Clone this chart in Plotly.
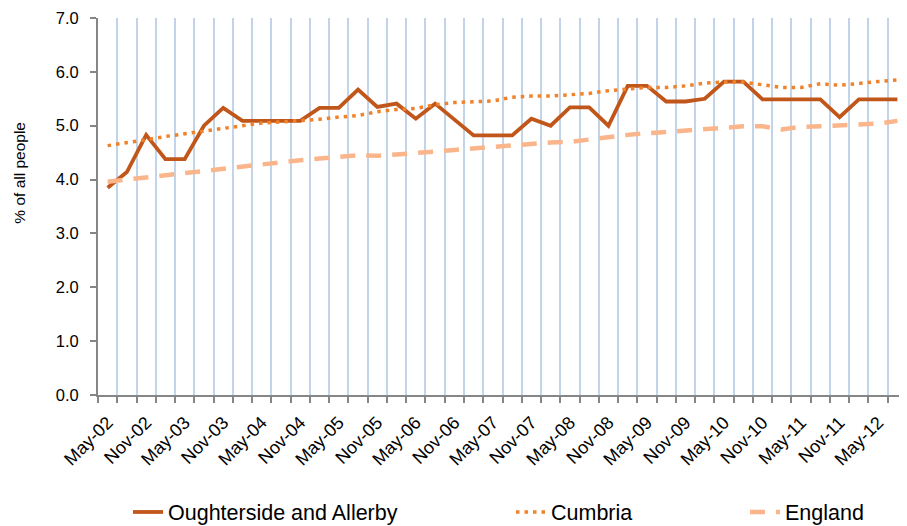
import plotly.graph_objects as go

categories = [
    "May-02", "Aug-02", "Nov-02", "Feb-03", "May-03", "Aug-03", "Nov-03", "Feb-04",
    "May-04", "Aug-04", "Nov-04", "Feb-05", "May-05", "Aug-05", "Nov-05", "Feb-06",
    "May-06", "Aug-06", "Nov-06", "Feb-07", "May-07", "Aug-07", "Nov-07", "Feb-08",
    "May-08", "Aug-08", "Nov-08", "Feb-09", "May-09", "Aug-09", "Nov-09", "Feb-10",
    "May-10", "Aug-10", "Nov-10", "Feb-11", "May-11", "Aug-11", "Nov-11", "Feb-12",
    "May-12", "Aug-12",
]

oughterside = [3.85, 4.14, 4.83, 4.38, 4.38, 5.00, 5.33, 5.09, 5.09, 5.09,
               5.09, 5.33, 5.33, 5.67, 5.35, 5.41, 5.13, 5.41, 5.12, 4.82,
               4.82, 4.82, 5.13, 5.00, 5.34, 5.34, 5.00, 5.74, 5.74, 5.45,
               5.45, 5.50, 5.82, 5.82, 5.49, 5.49, 5.49, 5.49, 5.16, 5.49,
               5.49, 5.49]

cumbria = [4.63, 4.68, 4.74, 4.80, 4.85, 4.90, 4.96, 5.00, 5.05, 5.07,
           5.09, 5.12, 5.16, 5.19, 5.26, 5.30, 5.32, 5.39, 5.43, 5.45,
           5.46, 5.53, 5.55, 5.55, 5.58, 5.60, 5.65, 5.68, 5.71, 5.71,
           5.74, 5.79, 5.81, 5.81, 5.76, 5.71, 5.71, 5.78, 5.75, 5.79,
           5.82, 5.85]

england = [3.96, 4.00, 4.05, 4.08, 4.12, 4.16, 4.21, 4.25, 4.29, 4.33,
           4.36, 4.39, 4.42, 4.45, 4.44, 4.46, 4.49, 4.52, 4.55, 4.58,
           4.61, 4.64, 4.67, 4.69, 4.70, 4.75, 4.80, 4.83, 4.86, 4.88,
           4.91, 4.94, 4.96, 4.99, 4.99, 4.93, 4.98, 4.99, 5.00, 5.02,
           5.04, 5.09]

y_ticks = [0, 1, 2, 3, 4, 5, 6, 7]

idx = list(range(len(categories)))
label_idx = idx[::2]
label_text = [categories[i] for i in label_idx]

FONT = "Liberation Sans, Arial, sans-serif"
W, H = 899, 518  # page body has an 8px margin, so figure fills the rest of the window

fig = go.Figure()
fig.add_trace(go.Scatter(x=idx, y=oughterside, mode="lines", name="Oughterside and Allerby",
                         line=dict(color="#C0561A", width=3.8), legend="legend"))
fig.add_trace(go.Scatter(x=idx, y=cumbria, mode="lines", name="Cumbria",
                         line=dict(color="#F0822B", width=3.5, dash="3.5px,5px"), legend="legend2"))
fig.add_trace(go.Scatter(x=idx, y=england, mode="lines", name="England",
                         line=dict(color="#FAB58A", width=4.5, dash="15px,11px"), legend="legend3"))

legend_common = dict(orientation="h", yanchor="middle", y=14 / H, yref="container",
                     xanchor="left", xref="container",
                     font=dict(family=FONT, size=21.5, color="#000000"),
                     bgcolor="rgba(0,0,0,0)")

fig.update_layout(
    width=W, height=H,
    margin=dict(l=90, r=0, t=10, b=131),
    paper_bgcolor="white", plot_bgcolor="white",
    font=dict(family=FONT, size=16, color="#000000"),
    showlegend=True,
    legend=dict(x=120 / W, **legend_common),
    legend2=dict(x=503 / W, **legend_common),
    legend3=dict(x=737 / W, **legend_common),
    xaxis=dict(
        range=[-0.5, len(categories) - 0.5],
        tickmode="array", tickvals=label_idx, ticktext=label_text,
        tickangle=-45, ticks="", showgrid=False,
        showline=True, linecolor="#868686", linewidth=2,
        tickfont=dict(size=18, family=FONT, color="#000000"),
        zeroline=False, automargin=False, ticklabelstandoff=8,
        minor=dict(tick0=-0.5, dtick=1, ticks="outside", ticklen=6, tickcolor="#868686",
                   tickwidth=1.5, showgrid=True, gridcolor="#C2D4EA", gridwidth=2),
    ),
    yaxis=dict(
        range=[0, 7], tickmode="array", tickvals=y_ticks, tickformat=".1f",
        ticks="outside", ticklen=6, tickcolor="#868686", tickwidth=1.5,
        showline=True, linecolor="#868686", linewidth=2, showgrid=False, zeroline=False,
        tickfont=dict(size=16.5, family=FONT, color="#000000"),
        automargin=False, ticklabelstandoff=8,
    ),
    annotations=[dict(text="% of all people", textangle=-90, xref="paper", yref="paper",
                      x=-0.0975, y=0.59, xanchor="center", yanchor="middle", showarrow=False,
                      font=dict(size=15.5, family=FONT, color="#000000"))],
)

fig.write_html("out.html")
